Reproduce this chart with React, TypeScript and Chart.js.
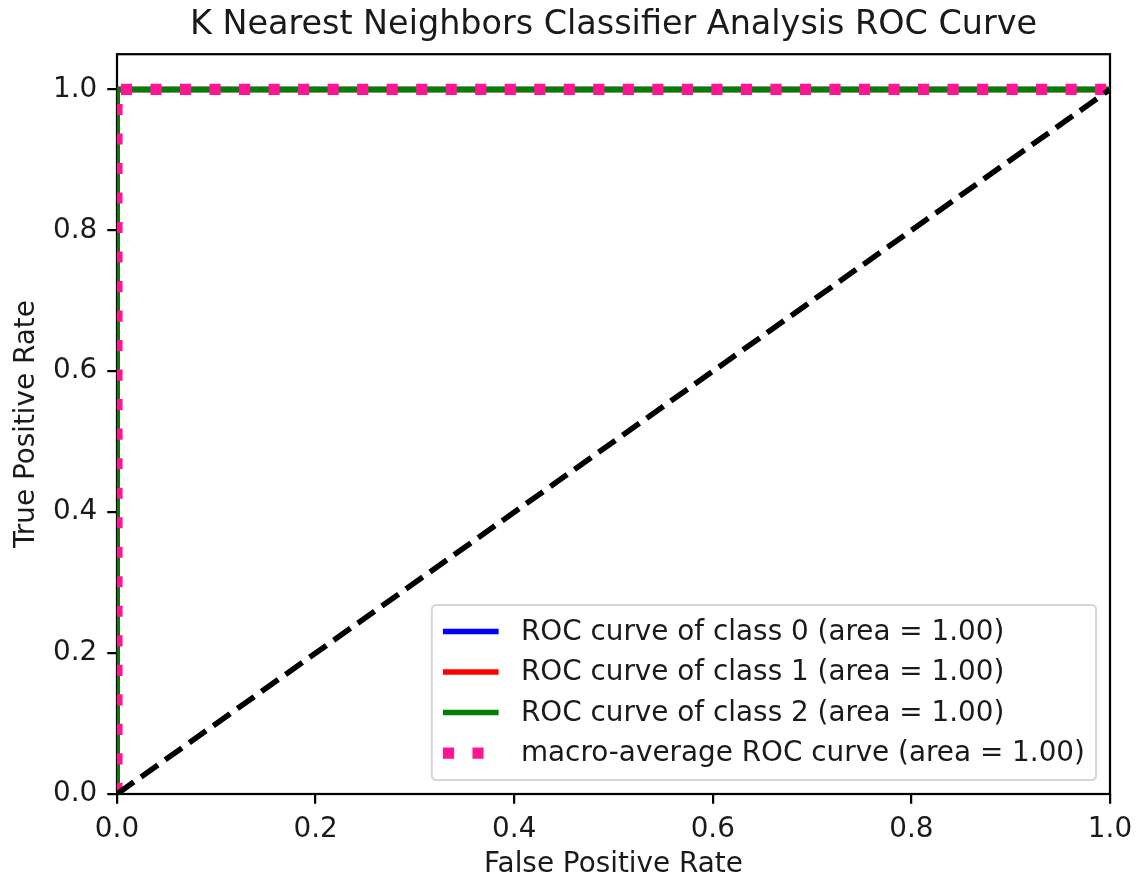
import React, { useEffect, useRef } from 'react';
import { Chart, registerables } from 'chart.js';

Chart.register(...registerables);

const TITLE = 'K Nearest Neighbors Classifier Analysis ROC Curve';
const X_LABEL = 'False Positive Rate';
const Y_LABEL = 'True Positive Rate';
const X_TICKS = [0.0, 0.2, 0.4, 0.6, 0.8, 1.0];
const Y_TICKS = [0.0, 0.2, 0.4, 0.6, 0.8, 1.0];
const X_MIN = 0.0;
const X_MAX = 1.0;
const Y_MIN = 0.0;
const Y_MAX = 1.05;

const CLASS_NAMES = ['0', '1', '2'];
const CLASS_AUC = [1.0, 1.0, 1.0];
const CLASS_COLORS = ['blue', 'red', 'green'];
const CLASS0_FPR = [0.0, 0.0, 1.0];
const CLASS0_TPR = [0.0, 1.0, 1.0];
const CLASS1_FPR = [0.0, 0.0, 1.0];
const CLASS1_TPR = [0.0, 1.0, 1.0];
const CLASS2_FPR = [0.0, 0.0, 1.0];
const CLASS2_TPR = [0.0, 1.0, 1.0];
const MACRO_FPR = [0.0, 0.0, 1.0];
const MACRO_TPR = [0.0, 1.0, 1.0];
const MACRO_AUC = 1.0;
const MACRO_COLOR = 'deeppink';
const CHANCE_FPR = [0.0, 1.0];
const CHANCE_TPR = [0.0, 1.0];

const FONT = 'DejaVu Sans';
const TEXT_COLOR = '#1a1a1a';
const PT = 2.785;

const toPoints = (xs: number[], ys: number[]) => xs.map((x, i) => ({ x, y: ys[i] }));

const framePlugin = {
  id: 'frame',
  beforeDatasetsDraw(chart: any) {
    const { ctx, chartArea } = chart;
    ctx.save();
    ctx.strokeStyle = '#000';
    ctx.lineWidth = 0.8 * PT;
    ctx.strokeRect(chartArea.left, chartArea.top, chartArea.right - chartArea.left, chartArea.bottom - chartArea.top);
    ctx.restore();
  },
};

const legendPlugin = {
  id: 'mplLegend',
  afterDatasetsDraw(chart: any) {
    const { ctx, chartArea } = chart;
    const fs = 10 * PT;
    const items = chart.data.datasets.filter((d: any) => d.label);
    ctx.save();
    ctx.font = `${fs}px "${FONT}"`;
    const maxW = Math.max(...items.map((d: any) => ctx.measureText(d.label).width));
    const pad = 0.4 * fs;
    const handleLen = 2 * fs;
    const handlePad = 0.8 * fs;
    const rowGap = 40.5;
    const boxW = pad + handleLen + handlePad + maxW + pad;
    const boxH = 175;
    const right = chartArea.right - 0.5 * fs;
    const bottom = chartArea.bottom - 0.5 * fs;
    const left = right - boxW;
    const top = bottom - boxH;
    const r = 5;
    ctx.beginPath();
    ctx.moveTo(left + r, top);
    ctx.lineTo(right - r, top);
    ctx.quadraticCurveTo(right, top, right, top + r);
    ctx.lineTo(right, bottom - r);
    ctx.quadraticCurveTo(right, bottom, right - r, bottom);
    ctx.lineTo(left + r, bottom);
    ctx.quadraticCurveTo(left, bottom, left, bottom - r);
    ctx.lineTo(left, top + r);
    ctx.quadraticCurveTo(left, top, left + r, top);
    ctx.closePath();
    ctx.fillStyle = 'rgba(255,255,255,0.8)';
    ctx.fill();
    ctx.strokeStyle = 'rgba(204,204,204,0.8)';
    ctx.lineWidth = 2;
    ctx.stroke();
    items.forEach((d: any, i: number) => {
      const cy = top + 26.5 + i * rowGap;
      const hx = left + pad;
      ctx.beginPath();
      ctx.setLineDash(d.borderDash || []);
      ctx.lineDashOffset = 0;
      ctx.strokeStyle = d.borderColor;
      ctx.lineWidth = d.borderWidth;
      ctx.lineCap = 'butt';
      ctx.moveTo(hx, cy);
      ctx.lineTo(hx + handleLen, cy);
      ctx.stroke();
      ctx.setLineDash([]);
      ctx.fillStyle = TEXT_COLOR;
      ctx.textAlign = 'left';
      ctx.textBaseline = 'middle';
      ctx.fillText(d.label, hx + handleLen + handlePad, cy + 1);
    });
    ctx.restore();
  },
};

export default function App() {
  const ref = useRef<HTMLCanvasElement | null>(null);

  useEffect(() => {
    if (!ref.current) return;
    const classFpr = [CLASS0_FPR, CLASS1_FPR, CLASS2_FPR];
    const classTpr = [CLASS0_TPR, CLASS1_TPR, CLASS2_TPR];
    const datasets: any[] = CLASS_NAMES.map((name, i) => ({
      label: `ROC curve of class ${name} (area = ${CLASS_AUC[i].toFixed(2)})`,
      data: toPoints(classFpr[i], classTpr[i]),
      borderColor: CLASS_COLORS[i],
      backgroundColor: CLASS_COLORS[i],
      borderWidth: 2 * PT,
      showLine: true,
      pointRadius: 0,
      clip: 0,
      order: 10 - i,
    }));
    datasets.push({
      label: `macro-average ROC curve (area = ${MACRO_AUC.toFixed(2)})`,
      data: toPoints(MACRO_FPR, MACRO_TPR),
      borderColor: MACRO_COLOR,
      backgroundColor: MACRO_COLOR,
      borderWidth: 4 * PT,
      borderDash: [4 * PT, 6.6 * PT],
      showLine: true,
      pointRadius: 0,
      clip: 0,
      order: 2,
    });
    datasets.push({
      label: '',
      data: toPoints(CHANCE_FPR, CHANCE_TPR),
      borderColor: '#000',
      backgroundColor: '#000',
      borderWidth: 2 * PT,
      borderDash: [7.4 * PT, 3.2 * PT],
      showLine: true,
      pointRadius: 0,
      clip: 0,
      order: 1,
    });

    const tickFont = { family: FONT, size: 10 * PT };
    const chart = new Chart(ref.current, {
      type: 'scatter',
      data: { datasets },
      plugins: [framePlugin, legendPlugin],
      options: {
        animation: false,
        responsive: false,
        maintainAspectRatio: false,
        layout: { padding: { left: 0, right: 28, top: 0, bottom: 0 } },
        plugins: {
          legend: { display: false },
          tooltip: { enabled: false },
          title: {
            display: true,
            text: TITLE,
            fullSize: false,
            color: TEXT_COLOR,
            font: { family: FONT, size: 12 * PT, weight: 'normal' },
            padding: { top: 5.5, bottom: 8.6 },
          },
        },
        scales: {
          x: {
            type: 'linear',
            position: 'bottom',
            min: X_MIN,
            max: X_MAX,
            afterBuildTicks: (s: any) => { s.ticks = X_TICKS.map((v) => ({ value: v })); },
            afterFit: (s: any) => { s.height = 88; s.paddingLeft = 0; s.paddingRight = 0; },
            grid: { display: true, drawOnChartArea: false, drawTicks: true, tickLength: 3.5 * PT, color: '#000', lineWidth: 0.8 * PT },
            border: { display: false },
            ticks: { color: TEXT_COLOR, font: tickFont, padding: 9, maxRotation: 0, autoSkip: false, callback: (v: any) => Number(v).toFixed(1) },
            title: { display: true, text: X_LABEL, color: TEXT_COLOR, font: tickFont, padding: { top: 0, bottom: 1 } },
          },
          y: {
            type: 'linear',
            min: Y_MIN,
            max: Y_MAX,
            afterBuildTicks: (s: any) => { s.ticks = Y_TICKS.map((v) => ({ value: v })); },
            afterFit: (s: any) => { s.width = 117; s.paddingTop = 0; s.paddingBottom = 0; },
            grid: { display: true, drawOnChartArea: false, drawTicks: true, tickLength: 3.5 * PT, color: '#000', lineWidth: 0.8 * PT },
            border: { display: false },
            ticks: { color: TEXT_COLOR, font: tickFont, padding: 10, autoSkip: false, callback: (v: any) => Number(v).toFixed(1) },
            title: { display: true, text: Y_LABEL, color: TEXT_COLOR, font: tickFont, padding: { top: 10.4, bottom: 0 } },
          },
        },
      } as any,
    });
    return () => chart.destroy();
  }, []);

  return (
    <div style={{ position: 'absolute', left: 0, top: 0, width: 1138, height: 882, background: '#fff' }}>
      <canvas ref={ref} width={1138} height={882} style={{ display: 'block' }} />
    </div>
  );
}
